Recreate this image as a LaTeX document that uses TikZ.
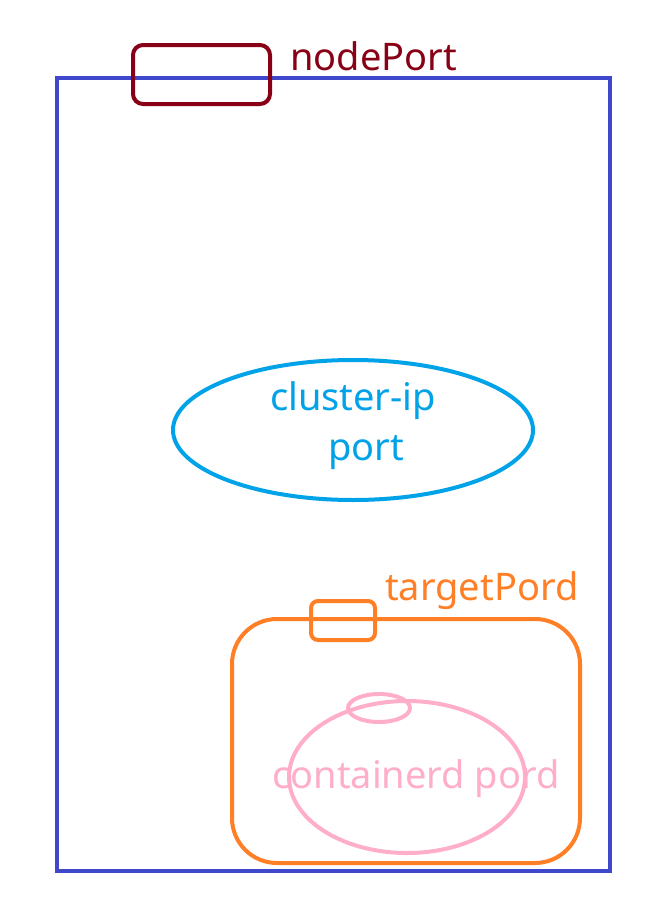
\documentclass[tikz,border=0pt]{standalone}
\usepackage{fontspec}
\setmainfont{Noto Sans}
\usetikzlibrary{shapes.geometric}
\definecolor{cblue}{HTML}{3F48CC}
\definecolor{cdred}{HTML}{880015}
\definecolor{ccyan}{HTML}{00A2E8}
\definecolor{corange}{HTML}{FF7F27}
\definecolor{cpink}{HTML}{FFAEC9}
\tikzset{
  lbl/.style={inner sep=0pt, font=\fontsize{38}{44}\selectfont},
  stroke/.style={line width=4pt}
}
\begin{document}
\begin{tikzpicture}[x=1pt,y=-1pt]
\useasboundingbox (0,0) rectangle (666,908);
\fill[white] (0,0) rectangle (666,908);
% outer node
\draw[stroke,cblue] (57,78) rectangle (610,871);
% nodePort
\draw[stroke,cdred,rounded corners=10pt] (133,45) rectangle (270,104);
\node[lbl,text=cdred,anchor=base west] (np) at (290,70) {nodePort};
% cluster-ip ellipse
\draw[stroke,ccyan] (353,430) ellipse [x radius=180, y radius=70];
\node[lbl,text=ccyan,anchor=base] (cip) at (353,410) {cluster-ip};
\node[lbl,text=ccyan,anchor=base] (prt) at (366,460) {port};
% pod
\draw[stroke,corange,rounded corners=45pt] (232,619) rectangle (580,863);
\draw[stroke,corange,rounded corners=7pt] (311,601) rectangle (375,640);
\node[lbl,text=corange,anchor=base west] (tp) at (385,600) {targetPord};
% container
\draw[stroke,cpink] (407,777) ellipse [x radius=118, y radius=76];
\draw[stroke,cpink] (379,708) ellipse [x radius=31, y radius=14];
\node[lbl,text=cpink,anchor=base] (cp) at (416,788) {containerd pord};
\end{tikzpicture}
\end{document}
